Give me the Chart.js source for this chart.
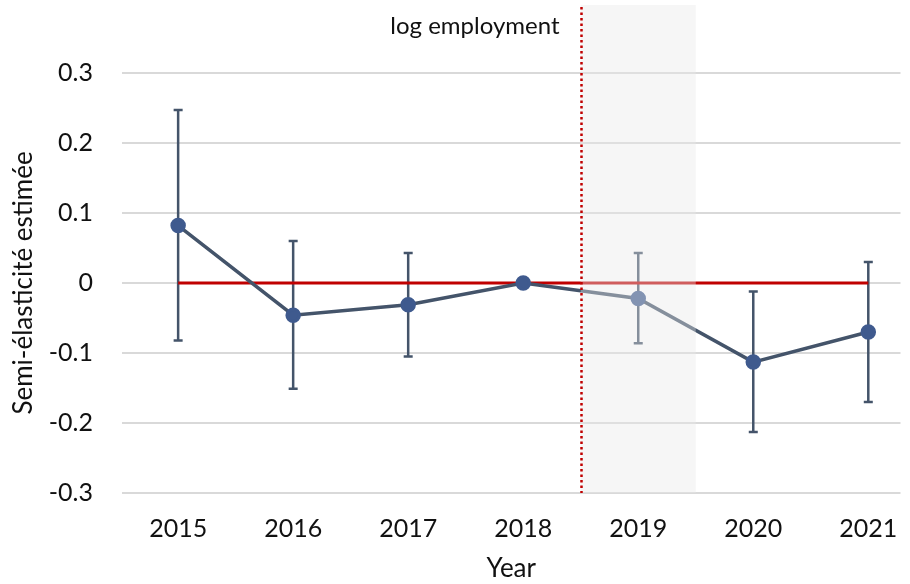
<!DOCTYPE html>
<html>
<head>
<meta charset="utf-8">
<script src="https://cdn.jsdelivr.net/npm/chart.js@4.4.1/dist/chart.umd.min.js"></script>
<style>
  html, body { margin: 0; padding: 0; background: #fff; overflow: hidden; }
  #wrap { width: 910px; height: 584px; position: relative; }
</style>
</head>
<body>
<div id="wrap"><canvas id="c"></canvas></div>
<script>
// données
const years = [2015, 2016, 2017, 2018, 2019, 2020, 2021];
const estimates = [0.082, -0.046, -0.031, 0.0, -0.022, -0.113, -0.070];
const lowerCI = [-0.082, -0.151, -0.105, 0.0, -0.086, -0.213, -0.170];
const upperCI = [0.247, 0.060, 0.043, 0.0, 0.043, -0.012, 0.030];
const yTickValues = [-0.3, -0.2, -0.1, 0, 0.1, 0.2, 0.3];
const yTickLabels = ['-0.3', '-0.2', '-0.1', '0', '0.1', '0.2', '0.3'];
const eventLine = 2018.5;
const shadeFrom = 2018.5, shadeTo = 2019.5;
const panelTitle = 'log employment';

const FONT = 'Lato';
const TEXT_COL = '#111';
const LINE_COL = '#44546a';
const POINT_COL = '#3f5a8e';
const RED = '#c00000';

// barres d'erreur
const errorBars = {
  id: 'errorBars',
  beforeDatasetsDraw(chart) {
    const { ctx, scales: { x, y } } = chart;
    ctx.save();
    ctx.strokeStyle = LINE_COL;
    ctx.lineWidth = 2.5;
    years.forEach((yr, i) => {
      if (upperCI[i] === lowerCI[i]) return;
      const px = x.getPixelForValue(yr);
      const top = y.getPixelForValue(upperCI[i]);
      const bot = y.getPixelForValue(lowerCI[i]);
      ctx.beginPath();
      ctx.moveTo(px, top); ctx.lineTo(px, bot);
      ctx.moveTo(px - 4.5, top); ctx.lineTo(px + 4.5, top);
      ctx.moveTo(px - 4.5, bot); ctx.lineTo(px + 4.5, bot);
      ctx.stroke();
    });
    ctx.restore();
  }
};

// zone grisée + ligne pointillée + titre
const overlay = {
  id: 'overlay',
  afterDatasetsDraw(chart) {
    const { ctx, chartArea, scales: { x } } = chart;
    const x0 = x.getPixelForValue(shadeFrom);
    const x1 = x.getPixelForValue(shadeTo);
    ctx.save();
    ctx.fillStyle = 'rgba(232,232,232,0.4)';
    ctx.fillRect(x0, 5, x1 - x0, chartArea.bottom - 5);

    const xl = Math.round(x.getPixelForValue(eventLine)) + 0.5;
    ctx.strokeStyle = RED;
    ctx.lineWidth = 2.5;
    ctx.setLineDash([2.5, 3]);
    ctx.beginPath();
    ctx.moveTo(xl, 7);
    ctx.lineTo(xl, chartArea.bottom);
    ctx.stroke();

    ctx.fillStyle = TEXT_COL;
    ctx.font = '24px ' + FONT;
    ctx.textAlign = 'right';
    ctx.textBaseline = 'middle';
    ctx.fillText(panelTitle, xl - 22, 26);
    ctx.restore();
  }
};

new Chart(document.getElementById('c'), {
  type: 'line',
  data: {
    datasets: [
      {
        label: 'estimate',
        data: years.map((yr, i) => ({ x: yr, y: estimates[i] })),
        borderColor: LINE_COL,
        borderWidth: 3.5,
        pointRadius: 6,
        pointBackgroundColor: POINT_COL,
        pointBorderColor: POINT_COL,
        order: 1
      },
      {
        label: 'zero',
        data: [{ x: years[0], y: 0 }, { x: years[years.length - 1], y: 0 }],
        borderColor: RED,
        borderWidth: 3,
        pointRadius: 0,
        order: 2
      }
    ]
  },
  plugins: [errorBars, overlay],
  options: {
    responsive: true,
    maintainAspectRatio: false,
    animation: false,
    layout: { padding: { top: 73, right: 0, left: 0, bottom: 0 } },
    plugins: { legend: { display: false }, tooltip: { enabled: false } },
    scales: {
      x: {
        type: 'linear',
        min: 2014.512,
        max: 2021.28,
        afterBuildTicks(scale) { scale.ticks = years.map(v => ({ value: v })); },
        afterFit(scale) {
          scale.height = 91;
          scale.paddingLeft = 0;
          scale.paddingRight = 0;
        },
        grid: { display: false, drawTicks: false },
        border: { display: false },
        ticks: {
          padding: 21,
          color: TEXT_COL,
          font: { family: FONT, size: 25 },
          callback: v => String(v)
        },
        title: {
          display: true,
          text: 'Year',
          color: TEXT_COL,
          font: { family: FONT, size: 26 },
          padding: { top: 10, bottom: 0 }
        }
      },
      y: {
        min: -0.3,
        max: 0.3,
        afterBuildTicks(scale) { scale.ticks = yTickValues.map(v => ({ value: v })); },
        afterFit(scale) {
          scale.width = 122;
          scale.paddingTop = 0;
          scale.paddingBottom = 0;
        },
        grid: { color: '#d9d9d9', lineWidth: 2, drawTicks: false },
        border: { display: false },
        ticks: {
          padding: 29,
          color: TEXT_COL,
          font: { family: FONT, size: 25 },
          callback: v => yTickLabels[yTickValues.findIndex(t => Math.abs(t - v) < 1e-9)]
        },
        title: {
          display: true,
          text: 'Semi-élasticité estimée',
          color: TEXT_COL,
          font: { family: FONT, size: 26 },
          padding: { top: 8, bottom: 0 }
        }
      }
    }
  }
});
</script>
</body>
</html>
